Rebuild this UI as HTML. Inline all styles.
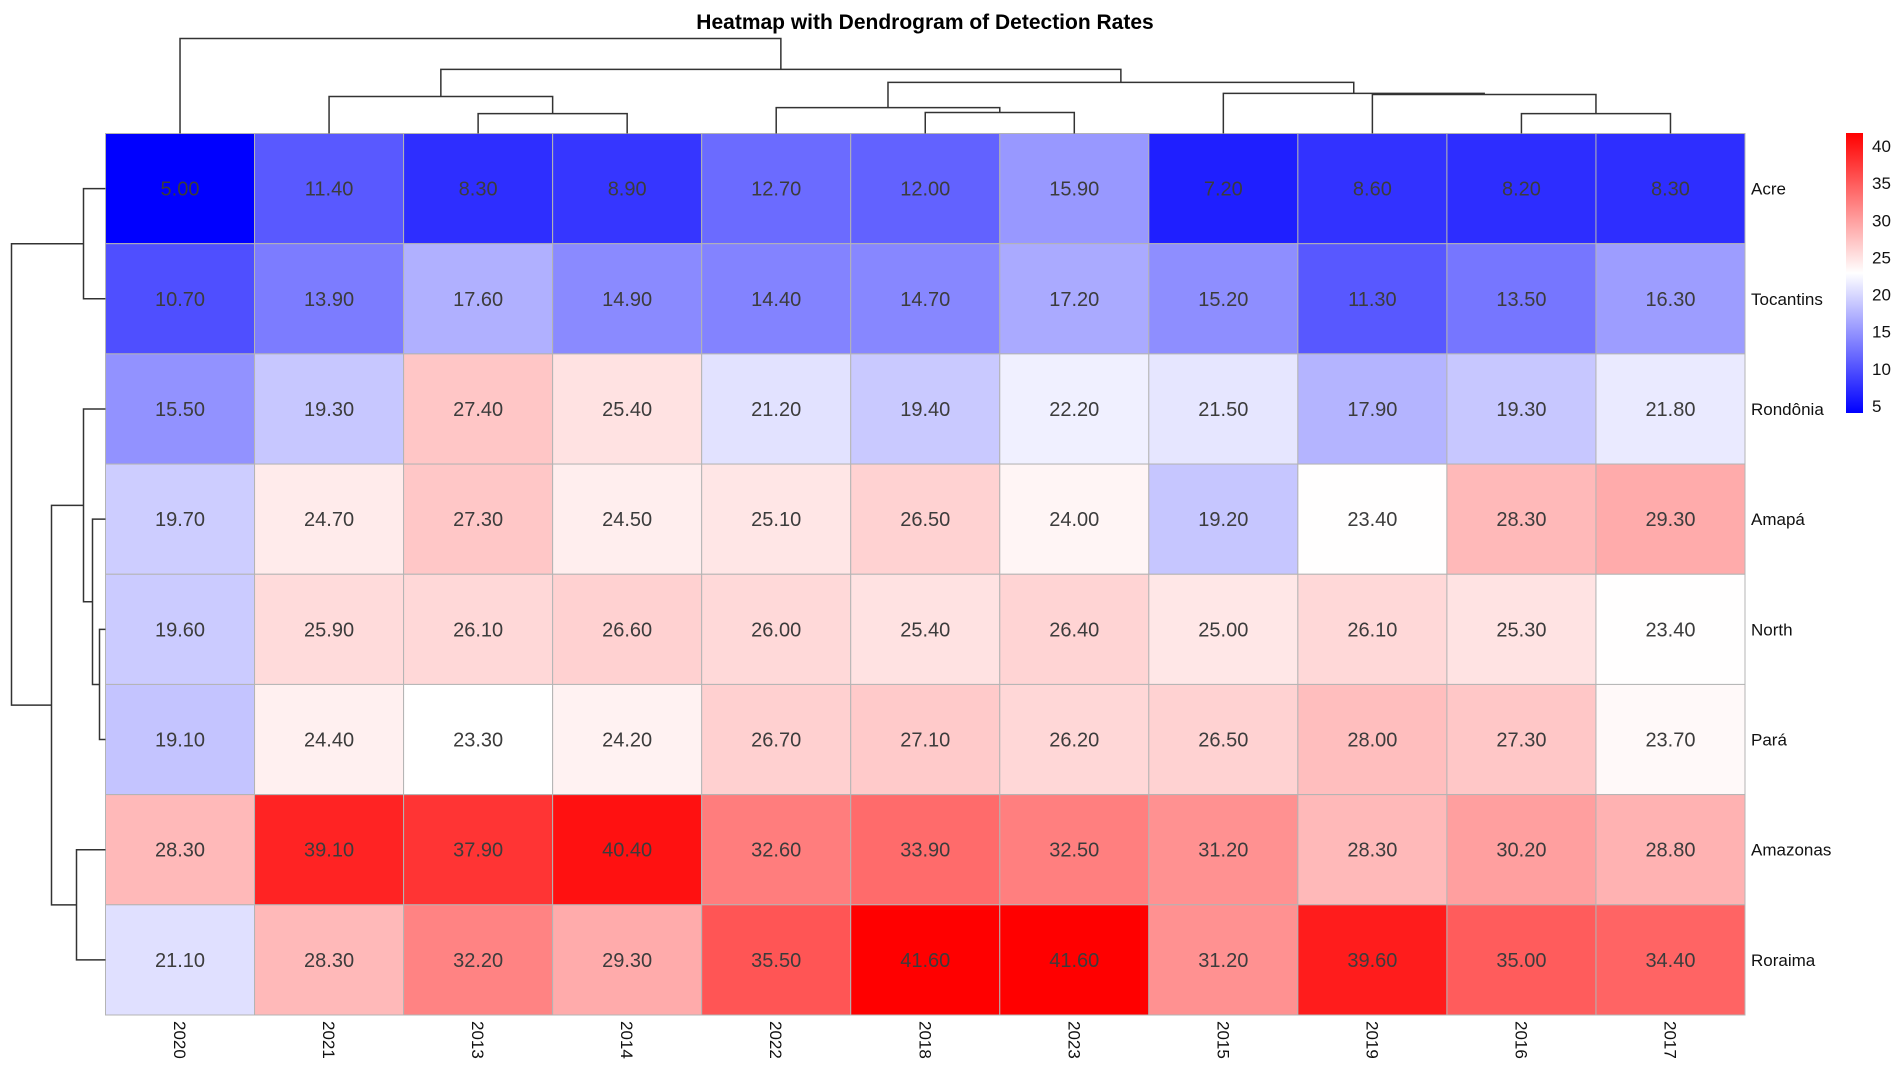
<!DOCTYPE html>
<html><head><meta charset="utf-8"><style>
html,body{margin:0;padding:0;background:#fff;}
svg{display:block;}
text{font-family:"Liberation Sans",sans-serif;}
</style></head><body>
<svg id="chart" width="1902" height="1072" xmlns="http://www.w3.org/2000/svg">
<defs>
<linearGradient id="cbar" x1="0" y1="1" x2="0" y2="0">
<stop offset="0" stop-color="#0000ff"/><stop offset="0.5" stop-color="#ffffff"/><stop offset="1" stop-color="#ff0000"/>
</linearGradient>
</defs>
<text x="925" y="29" text-anchor="middle" font-size="21" font-weight="bold" fill="#000">Heatmap with Dendrogram of Detection Rates</text>
<g id="cells"></g><g id="coldend"></g><g id="rowdend"></g><g id="labels"></g><g id="legend"></g>
</svg>
<script>
const columns = ["2020","2021","2013","2014","2022","2018","2023","2015","2019","2016","2017"];
const rows = ["Acre","Tocantins","Rondônia","Amapá","North","Pará","Amazonas","Roraima"];
const valuesAcre = [5.00,11.40,8.30,8.90,12.70,12.00,15.90,7.20,8.60,8.20,8.30];
const valuesTocantins = [10.70,13.90,17.60,14.90,14.40,14.70,17.20,15.20,11.30,13.50,16.30];
const valuesRondonia = [15.50,19.30,27.40,25.40,21.20,19.40,22.20,21.50,17.90,19.30,21.80];
const valuesAmapa = [19.70,24.70,27.30,24.50,25.10,26.50,24.00,19.20,23.40,28.30,29.30];
const valuesNorth = [19.60,25.90,26.10,26.60,26.00,25.40,26.40,25.00,26.10,25.30,23.40];
const valuesPara = [19.10,24.40,23.30,24.20,26.70,27.10,26.20,26.50,28.00,27.30,23.70];
const valuesAmazonas = [28.30,39.10,37.90,40.40,32.60,33.90,32.50,31.20,28.30,30.20,28.80];
const valuesRoraima = [21.10,28.30,32.20,29.30,35.50,41.60,41.60,31.20,39.60,35.00,34.40];
const legendTicks = [5,10,15,20,25,30,35,40];
// dendrogram merges: [childA, childB, height]; negative = leaf index (-(i+1)), positive = merge number (1-based)
const colMerges = [[-3,-4,8.3],[-2,1,15.4],[-6,-7,8.75],[-5,3,10.8],[-10,-11,8.3],[-9,5,16.25],[-8,6,16.7],[4,7,21.3],[2,8,26.7],[-1,9,39.6]];
const rowMerges = [[-1,-2,11],[-5,-6,3],[-4,2,6.5],[-3,3,11],[-7,-8,14.5],[4,5,27],[1,6,47]];

const matrix=[valuesAcre,valuesTocantins,valuesRondonia,valuesAmapa,valuesNorth,valuesPara,valuesAmazonas,valuesRoraima];
const NS="http://www.w3.org/2000/svg";
const L=105.5,R=1745,T=133.5,B=1015;
const cw=(R-L)/columns.length, rh=(B-T)/rows.length;
const vmin=5, vmax=41.6, vmid=(vmin+vmax)/2;
function xCol(i){return L+cw*(i+0.5);}
function yRow(i){return T+rh*(i+0.5);}
function color(v){
  let r,g,b;
  if(v<=vmid){const t=Math.max(0,(v-vmin)/(vmid-vmin));r=Math.round(255*t);g=r;b=255;}
  else{const t=Math.min(1,(v-vmid)/(vmax-vmid));r=255;g=Math.round(255*(1-t));b=g;}
  return `rgb(${r},${g},${b})`;
}
function mk(tag,attrs,parent){const e=document.createElementNS(NS,tag);for(const k in attrs)e.setAttribute(k,attrs[k]);parent.appendChild(e);return e;}
const cells=document.getElementById('cells');
rows.forEach((rn,ri)=>{columns.forEach((cn,ci)=>{
  const v=matrix[ri][ci];
  const r=mk('rect',{x:L+cw*ci,y:T+rh*ri,width:cw,height:rh,fill:color(v),stroke:'#b4b4b4','stroke-width':1},cells);
  
  
  const t=mk('text',{x:xCol(ci),y:yRow(ri)+7,'text-anchor':'middle','font-size':20,fill:'#3c3c3c'},cells);
  t.textContent=v.toFixed(2);
  
  
});});
const labels=document.getElementById('labels');
rows.forEach((rn,ri)=>{
  const t=mk('text',{x:1751,y:yRow(ri)+6,'font-size':17,fill:'#111'},labels);
  t.textContent=rn;
  
  
});
columns.forEach((cn,ci)=>{
  const x=xCol(ci)-6,y=1021;
  const t=mk('text',{x:x,y:y,'font-size':17,fill:'#111',transform:`rotate(90 ${x} ${y})`},labels);
  t.textContent=cn;
  
  
});
// column dendrogram
const cd=document.getElementById('coldend');
const colH=h=>T-h*2.4;
function drawDend(merges,g,leafPos,hPos,vertical){
  const pos=[],ht=[];
  function get(c){return c<0?[leafPos(-c-1),0]:[pos[c-1],ht[c-1]];}
  merges.forEach((m,i)=>{
    const [pa,ha]=get(m[0]),[pb,hb]=get(m[1]),h=m[2];
    const pts=vertical?
      `${pa},${hPos(ha)} ${pa},${hPos(h)} ${pb},${hPos(h)} ${pb},${hPos(hb)}`:
      `${hPos(ha)},${pa} ${hPos(h)},${pa} ${hPos(h)},${pb} ${hPos(hb)},${pb}`;
    const p=mk('polyline',{points:pts,fill:'none',stroke:'#333','stroke-width':1.5},g);
    
    
    pos.push((pa+pb)/2);ht.push(h);
  });
}
drawDend(colMerges,cd,xCol,colH,true);
drawDend(rowMerges,document.getElementById('rowdend'),yRow,h=>L-h*2,false);
// legend
const lg=document.getElementById('legend');
const bar=mk('rect',{x:1846,y:133,width:17,height:280,fill:'url(#cbar)'},lg);


legendTicks.forEach(v=>{
  const y=406-(v-5)*7.43;
  const t=mk('text',{x:1872,y:y+6,'font-size':17,fill:'#111'},lg);
  t.textContent=v;
  
  
});
</script>
</body></html>
